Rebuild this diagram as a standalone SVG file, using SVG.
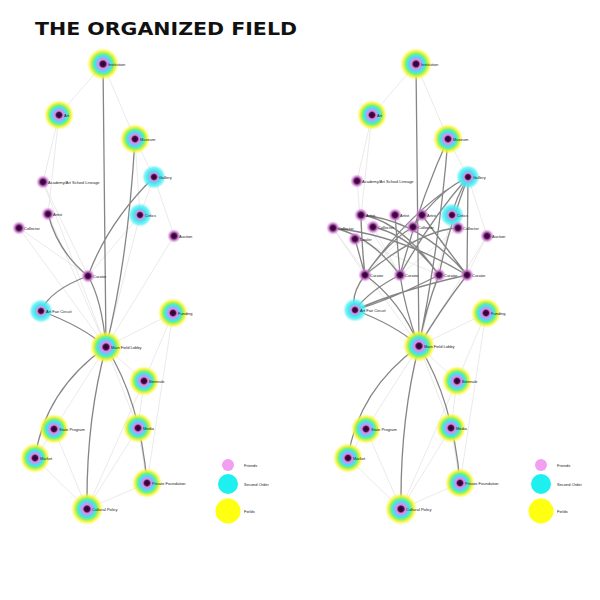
<svg xmlns="http://www.w3.org/2000/svg" width="600" height="600" viewBox="0 0 600 600">
<style>
.lbl{font-family:"Liberation Sans",Arial,sans-serif;font-size:4px;fill:#222}
.title{font-family:"DejaVu Sans",Verdana,sans-serif;font-weight:bold;font-size:17px;fill:#111}
.dk{fill:none;stroke:#707070;stroke-width:1.3;stroke-opacity:.85}
.lt{fill:none;stroke:#e4e4e4;stroke-width:.8}
.full{fill:url(#gFull)}
.cy{fill:url(#gCyan)}
.pk{fill:url(#gPink)}
</style>
<defs>
<radialGradient id="gFull">
<stop offset="0" stop-color="#2a0028"/>
<stop offset=".17" stop-color="#4a0a48"/>
<stop offset=".27" stop-color="#d48ee4"/>
<stop offset=".38" stop-color="#a8a8f4"/>
<stop offset=".5" stop-color="#36e8f0"/>
<stop offset=".64" stop-color="#78f07a"/>
<stop offset=".8" stop-color="#f2f230" stop-opacity=".9"/>
<stop offset="1" stop-color="#ffff40" stop-opacity="0"/>
</radialGradient>
<radialGradient id="gCyan">
<stop offset="0" stop-color="#2a0028"/>
<stop offset=".2" stop-color="#4a0a48"/>
<stop offset=".32" stop-color="#d890e6"/>
<stop offset=".52" stop-color="#3ee8f0"/>
<stop offset=".78" stop-color="#50eef4" stop-opacity=".75"/>
<stop offset="1" stop-color="#80f4f8" stop-opacity="0"/>
</radialGradient>
<radialGradient id="gPink">
<stop offset="0" stop-color="#2a0028"/>
<stop offset=".35" stop-color="#4a0a48"/>
<stop offset=".55" stop-color="#b060b8"/>
<stop offset="1" stop-color="#f0a0f0" stop-opacity="0"/>
</radialGradient>
</defs>
<rect width="600" height="600" fill="#fff"/>
<text class="title" x="35" y="35" textLength="262" lengthAdjust="spacingAndGlyphs">THE ORGANIZED FIELD</text>

<g id="connectors">
<path class="lt" d="M103,64L59,115M103,64L135,139M59,115L43,182M59,115L48,214M135,139L154,177M135,139L140,215M43,182L88,276M43,182L106,347M19,228L88,276M19,228L106,347M174,236L154,177M174,236L106,347M140,215L106,347M48,214L106,347M106,347L173,313M173,313L144,381M106,347L144,381M106,347L54,429M106,347L138,428M144,381L138,428M138,428L87,509M54,429L87,509M35,458L87,509M147,483L87,509M138,428L147,483M54,429L35,458M173,313L147,483M144,381L87,509M154,177L140,215M88,276L140,215"/>
<path class="dk" d="M103,64L106,347M135,139Q128,260 106,347M154,177Q108,222 88,276M48,214Q58,252 88,276M88,276Q50,290 41,311M41,311Q82,326 106,347M88,276Q102,300 106,347M106,347Q45,390 35,458M106,347Q86,420 87,509M106,347Q140,400 147,483"/>
<path class="lt" d="M416,64L372,115M416,64L448,139M372,115L357,181M372,115L361,215M448,139L468,177M357,181L365,275M333,228L365,275M333,228L419,346M487,236L468,177M487,236L419,346M487,236L467,275M452,215L419,346M361,215L400,275M395,215L439,275M422,215L467,275M373,227L400,275M413,227L365,275M458,228L400,275M355,239L439,275M419,346L486,313M486,313L457,381M419,346L457,381M419,346L366,429M419,346L451,428M457,381L451,428M451,428L401,509M366,429L401,509M348,458L401,509M460,483L401,509M451,428L460,483M366,429L348,458M486,313L460,483M457,381L401,509"/>
<path class="dk" d="M416,64L419,346M448,139Q440,240 419,346M448,139Q420,200 400,275M468,177Q415,205 365,275M468,177Q430,220 400,275M468,177Q448,230 439,275M468,177L467,275M468,177Q440,190 413,227M468,177Q455,200 452,215M361,215Q362,250 365,275M355,239L365,275M365,275Q390,240 413,227M365,275Q420,230 458,228M400,275Q370,235 333,228M400,275L395,215M439,275Q410,235 373,227M439,275Q400,220 361,215M467,275Q420,220 361,215M467,275Q400,235 333,228M467,275Q440,240 422,215M365,275Q350,295 355,310M365,275Q400,300 419,346M400,275Q405,310 419,346M439,275Q425,310 419,346M467,275Q400,290 355,310M467,275Q440,310 419,346M439,275Q390,300 355,310M400,275Q370,290 355,310M355,310Q395,325 419,346M419,346Q358,390 348,458M419,346Q400,420 401,509M419,346Q453,400 460,483"/>
</g>

<g id="L_institution"><circle class="full" cx="103" cy="64" r="16"/><text class="lbl" x="108" y="65.5">Institution</text></g>
<g id="L_art"><circle class="full" cx="59" cy="115" r="15"/><text class="lbl" x="64" y="116.5">Art</text></g>
<g id="L_museum"><circle class="full" cx="135" cy="139" r="15"/><text class="lbl" x="140" y="140.5">Museum</text></g>
<g id="L_gallery"><circle class="cy" cx="154" cy="177" r="12"/><text class="lbl" x="159" y="178.5">Gallery</text></g>
<g id="L_academy"><circle class="pk" cx="43" cy="182" r="7"/><text class="lbl" x="48" y="183.5">Academy/Art School Lineage</text></g>
<g id="L_critics"><circle class="cy" cx="140" cy="215" r="12"/><text class="lbl" x="145" y="216.5">Critics</text></g>
<g id="L_artist"><circle class="pk" cx="48" cy="214" r="7"/><text class="lbl" x="53" y="215.5">Artist</text></g>
<g id="L_collector"><circle class="pk" cx="19" cy="228" r="7"/><text class="lbl" x="24" y="229.5">Collector</text></g>
<g id="L_auction"><circle class="pk" cx="174" cy="236" r="7"/><text class="lbl" x="179" y="237.5">Auction</text></g>
<g id="L_curator"><circle class="pk" cx="88" cy="276" r="7"/><text class="lbl" x="93" y="277.5">Curator</text></g>
<g id="L_fair"><circle class="cy" cx="41" cy="311" r="12"/><text class="lbl" x="46" y="312.5">Art Fair Circuit</text></g>
<g id="L_funding"><circle class="full" cx="173" cy="313" r="15"/><text class="lbl" x="178" y="314.5">Funding</text></g>
<g id="L_hub"><circle class="full" cx="106" cy="347" r="16"/><text class="lbl" x="111" y="348.5">Main Field Lobby</text></g>
<g id="L_biennale"><circle class="full" cx="144" cy="381" r="15"/><text class="lbl" x="149" y="382.5">Biennale</text></g>
<g id="L_state"><circle class="full" cx="54" cy="429" r="15"/><text class="lbl" x="59" y="430.5">State Program</text></g>
<g id="L_media"><circle class="full" cx="138" cy="428" r="15"/><text class="lbl" x="143" y="429.5">Media</text></g>
<g id="L_market"><circle class="full" cx="35" cy="458" r="15"/><text class="lbl" x="40" y="459.5">Market</text></g>
<g id="L_foundation"><circle class="full" cx="147" cy="483" r="15"/><text class="lbl" x="152" y="484.5">Private Foundation</text></g>
<g id="L_policy"><circle class="full" cx="87" cy="509" r="16"/><text class="lbl" x="92" y="510.5">Cultural Policy</text></g>

<g id="R_institution"><circle class="full" cx="416" cy="64" r="16"/><text class="lbl" x="421" y="65.5">Institution</text></g>
<g id="R_art"><circle class="full" cx="372" cy="115" r="15"/><text class="lbl" x="377" y="116.5">Art</text></g>
<g id="R_museum"><circle class="full" cx="448" cy="139" r="15"/><text class="lbl" x="453" y="140.5">Museum</text></g>
<g id="R_gallery"><circle class="cy" cx="468" cy="177" r="12"/><text class="lbl" x="473" y="178.5">Gallery</text></g>
<g id="R_academy"><circle class="pk" cx="357" cy="181" r="7"/><text class="lbl" x="362" y="182.5">Academy/Art School Lineage</text></g>
<g id="R_p1"><circle class="pk" cx="361" cy="215" r="7"/><text class="lbl" x="366" y="216.5">Artist</text></g>
<g id="R_p2"><circle class="pk" cx="395" cy="215" r="7"/><text class="lbl" x="400" y="216.5">Artist</text></g>
<g id="R_p3"><circle class="pk" cx="422" cy="215" r="7"/><text class="lbl" x="427" y="216.5">Artist</text></g>
<g id="R_critics"><circle class="cy" cx="452" cy="215" r="12"/><text class="lbl" x="457" y="216.5">Critics</text></g>
<g id="R_c1"><circle class="pk" cx="333" cy="228" r="7"/><text class="lbl" x="338" y="229.5">Collector</text></g>
<g id="R_c2"><circle class="pk" cx="373" cy="227" r="7"/><text class="lbl" x="378" y="228.5">Collector</text></g>
<g id="R_c3"><circle class="pk" cx="413" cy="227" r="7"/><text class="lbl" x="418" y="228.5">Collector</text></g>
<g id="R_c4"><circle class="pk" cx="458" cy="228" r="7"/><text class="lbl" x="463" y="229.5">Collector</text></g>
<g id="R_dealer"><circle class="pk" cx="355" cy="239" r="7"/><text class="lbl" x="360" y="240.5">Dealer</text></g>
<g id="R_auction"><circle class="pk" cx="487" cy="236" r="7"/><text class="lbl" x="492" y="237.5">Auction</text></g>
<g id="R_k1"><circle class="pk" cx="365" cy="275" r="7"/><text class="lbl" x="370" y="276.5">Curator</text></g>
<g id="R_k2"><circle class="pk" cx="400" cy="275" r="7"/><text class="lbl" x="405" y="276.5">Curator</text></g>
<g id="R_k3"><circle class="pk" cx="439" cy="275" r="7"/><text class="lbl" x="444" y="276.5">Curator</text></g>
<g id="R_k4"><circle class="pk" cx="467" cy="275" r="7"/><text class="lbl" x="472" y="276.5">Curator</text></g>
<g id="R_fair"><circle class="cy" cx="355" cy="310" r="12"/><text class="lbl" x="360" y="311.5">Art Fair Circuit</text></g>
<g id="R_funding"><circle class="full" cx="486" cy="313" r="15"/><text class="lbl" x="491" y="314.5">Funding</text></g>
<g id="R_hub"><circle class="full" cx="419" cy="346" r="16"/><text class="lbl" x="424" y="347.5">Main Field Lobby</text></g>
<g id="R_biennale"><circle class="full" cx="457" cy="381" r="15"/><text class="lbl" x="462" y="382.5">Biennale</text></g>
<g id="R_state"><circle class="full" cx="366" cy="429" r="15"/><text class="lbl" x="371" y="430.5">State Program</text></g>
<g id="R_media"><circle class="full" cx="451" cy="428" r="15"/><text class="lbl" x="456" y="429.5">Media</text></g>
<g id="R_market"><circle class="full" cx="348" cy="458" r="15"/><text class="lbl" x="353" y="459.5">Market</text></g>
<g id="R_foundation"><circle class="full" cx="460" cy="483" r="15"/><text class="lbl" x="465" y="484.5">Private Foundation</text></g>
<g id="R_policy"><circle class="full" cx="401" cy="509" r="16"/><text class="lbl" x="406" y="510.5">Cultural Policy</text></g>

<g id="legend_left">
<circle cx="228" cy="465" r="6" fill="#f08ef0" opacity=".85"/>
<circle cx="228" cy="484" r="10" fill="#1ef0f0"/>
<circle cx="228" cy="511" r="12.5" fill="#ffff10"/>
<text class="lbl" x="244" y="466.5">Friends</text>
<text class="lbl" x="244" y="485.5">Second Order</text>
<text class="lbl" x="244" y="512.5">Fields</text>
</g>
<g id="legend_right">
<circle cx="541" cy="465" r="6" fill="#f08ef0" opacity=".85"/>
<circle cx="541" cy="484" r="10" fill="#1ef0f0"/>
<circle cx="541" cy="511" r="12.5" fill="#ffff10"/>
<text class="lbl" x="557" y="466.5">Friends</text>
<text class="lbl" x="557" y="485.5">Second Order</text>
<text class="lbl" x="557" y="512.5">Fields</text>
</g>
</svg>
